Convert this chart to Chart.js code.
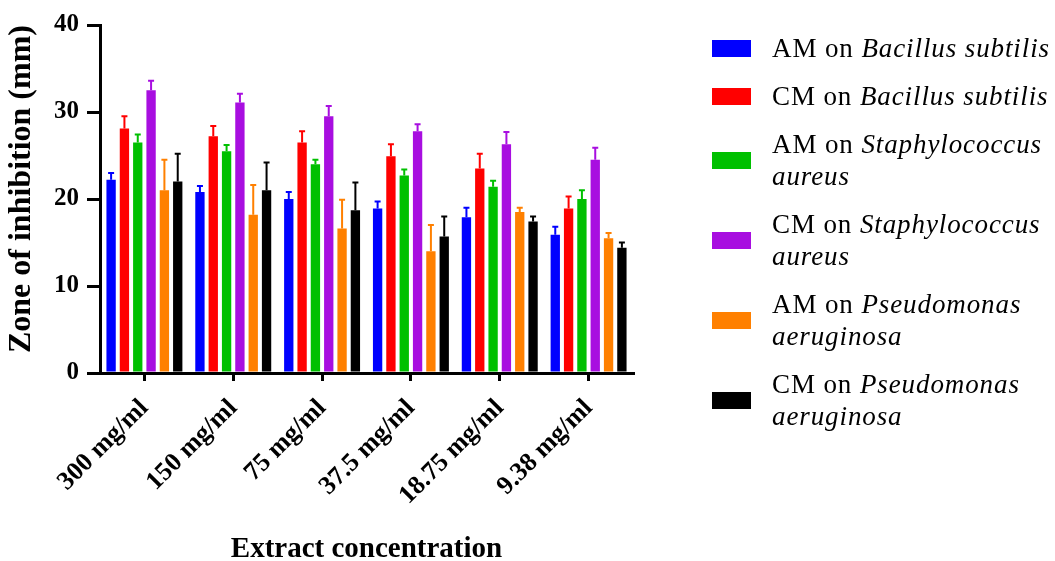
<!DOCTYPE html>
<html>
<head>
<meta charset="utf-8">
<script src="https://cdn.jsdelivr.net/npm/chart.js@4.4.1/dist/chart.umd.min.js"></script>
<style>
  html, body { margin: 0; padding: 0; background: #fff; }
  #wrap { position: relative; width: 1055px; height: 561px; }
  #legend {
    position: absolute; left: 712px; top: 32px; width: 340px;
    font-family: 'Liberation Serif', 'Times New Roman', serif; font-size: 27px; line-height: 32px;
    letter-spacing: 0.9px; color: #000;
  }
  .item { display: flex; align-items: center; margin-bottom: 16px; }
  .box { width: 39px; height: 17px; flex: none; margin-right: 21px; }
  .txt { width: 285px; }
</style>
</head>
<body>
<div id="wrap">
  <canvas id="myChart" width="1055" height="561"></canvas>
  <div id="legend"></div>
</div>
<script>
const categories = ['300 mg/ml', '150 mg/ml', '75 mg/ml', '37.5 mg/ml', '18.75 mg/ml', '9.38 mg/ml'];
const yTicks = [0, 10, 20, 30, 40];

const treatments = ['AM on', 'CM on', 'AM on', 'CM on', 'AM on', 'CM on'];
const organisms = ['Bacillus subtilis', 'Bacillus subtilis', 'Staphylococcus aureus',
                   'Staphylococcus aureus', 'Pseudomonas aeruginosa', 'Pseudomonas aeruginosa'];
const colors = ['#0000ff', '#ff0000', '#00c000', '#a80ee0', '#ff8000', '#000000'];

// mean zone of inhibition (mm)
const amBacillus = [22.2, 20.8, 20.0, 18.9, 17.9, 15.9];
const cmBacillus = [28.1, 27.2, 26.5, 24.9, 23.5, 18.9];
const amStaph    = [26.5, 25.5, 24.0, 22.7, 21.4, 20.0];
const cmStaph    = [32.5, 31.1, 29.5, 27.8, 26.3, 24.5];
const amPseudo   = [21.0, 18.2, 16.6, 14.0, 18.5, 15.5];
const cmPseudo   = [22.0, 21.0, 18.7, 15.7, 17.4, 14.4];

// error (upper bar only)
const amBacillusErr = [0.8, 0.7, 0.8, 0.8, 1.1, 0.9];
const cmBacillusErr = [1.4, 1.2, 1.3, 1.4, 1.7, 1.4];
const amStaphErr    = [0.9, 0.7, 0.5, 0.7, 0.7, 1.0];
const cmStaphErr    = [1.1, 1.0, 1.2, 0.8, 1.4, 1.4];
const amPseudoErr   = [3.5, 3.4, 3.3, 3.0, 0.5, 0.6];
const cmPseudoErr   = [3.2, 3.2, 3.2, 2.3, 0.6, 0.6];

const values = [amBacillus, cmBacillus, amStaph, cmStaph, amPseudo, cmPseudo];
const errors = [amBacillusErr, cmBacillusErr, amStaphErr, cmStaphErr, amPseudoErr, cmPseudoErr];

const serif = "'Liberation Serif', 'Times New Roman', serif";

// upper error bars with small caps
const errorBars = {
    id: 'errorBars',
    afterDatasetsDraw(chart) {
        const ctx = chart.ctx;
        const yScale = chart.scales.y;
        chart.data.datasets.forEach((ds, i) => {
            const meta = chart.getDatasetMeta(i);
            meta.data.forEach((bar, j) => {
                const top = yScale.getPixelForValue(ds.data[j] + errors[i][j]);
                ctx.save();
                ctx.strokeStyle = ds.backgroundColor;
                ctx.lineWidth = 2;
                ctx.beginPath();
                ctx.moveTo(bar.x, bar.y);
                ctx.lineTo(bar.x, top);
                ctx.moveTo(bar.x - 3, top);
                ctx.lineTo(bar.x + 3, top);
                ctx.stroke();
                ctx.restore();
            });
        });
    }
};

const data = {
    labels: categories,
    datasets: values.map((v, i) => ({
        label: treatments[i] + ' ' + organisms[i],
        data: v,
        backgroundColor: colors[i],
        borderWidth: 0,
        categoryPercentage: 0.9,
        barPercentage: 0.7
    }))
};

const config = {
    type: 'bar',
    data: data,
    options: {
        responsive: false,
        animation: false,
        layout: { padding: { top: 25, right: 422, left: 0, bottom: 0 } },
        plugins: {
            legend: { display: false },
            tooltip: { enabled: false }
        },
        scales: {
            x: {
                grid: { offset: false, drawOnChartArea: false, drawTicks: true, tickLength: 8, color: '#000', lineWidth: 3 },
                border: { display: true, color: '#000', width: 3 },
                ticks: {
                    color: '#000', maxRotation: 45, minRotation: 45, padding: 12,
                    font: { family: serif, size: 26, weight: 'bold' }
                },
                title: {
                    display: true, text: 'Extract concentration', color: '#000',
                    font: { family: serif, size: 29, weight: 'bold', lineHeight: 0.8 },
                    padding: { top: 0, bottom: 0 }
                },
                afterFit: (scale) => { scale.height = 188; }
            },
            y: {
                min: 0, max: 40,
                afterBuildTicks: (scale) => { scale.ticks = yTicks.map(v => ({ value: v })); },
                grid: { drawOnChartArea: false, drawTicks: true, tickLength: 13, color: '#000', lineWidth: 3 },
                border: { display: true, color: '#000', width: 3 },
                ticks: {
                    color: '#000', padding: 8,
                    font: { family: serif, size: 25, weight: 'bold' }
                },
                title: {
                    display: true, text: 'Zone of inhibition (mm)', color: '#000', align: 'end',
                    font: { family: serif, size: 32, weight: 'bold', lineHeight: 1 },
                    padding: { top: 6, bottom: 0 }
                },
                afterFit: (scale) => { scale.width = 100; }
            }
        }
    },
    plugins: [errorBars]
};

const myChart = new Chart(document.getElementById('myChart'), config);

// legend with italic organism names
const legend = document.getElementById('legend');
treatments.forEach((t, i) => {
    const item = document.createElement('div');
    item.className = 'item';
    const box = document.createElement('div');
    box.className = 'box';
    box.style.background = colors[i];
    const txt = document.createElement('div');
    txt.className = 'txt';
    txt.innerHTML = t + ' <i>' + organisms[i] + '</i>';
    item.appendChild(box);
    item.appendChild(txt);
    legend.appendChild(item);
});
</script>
</body>
</html>
